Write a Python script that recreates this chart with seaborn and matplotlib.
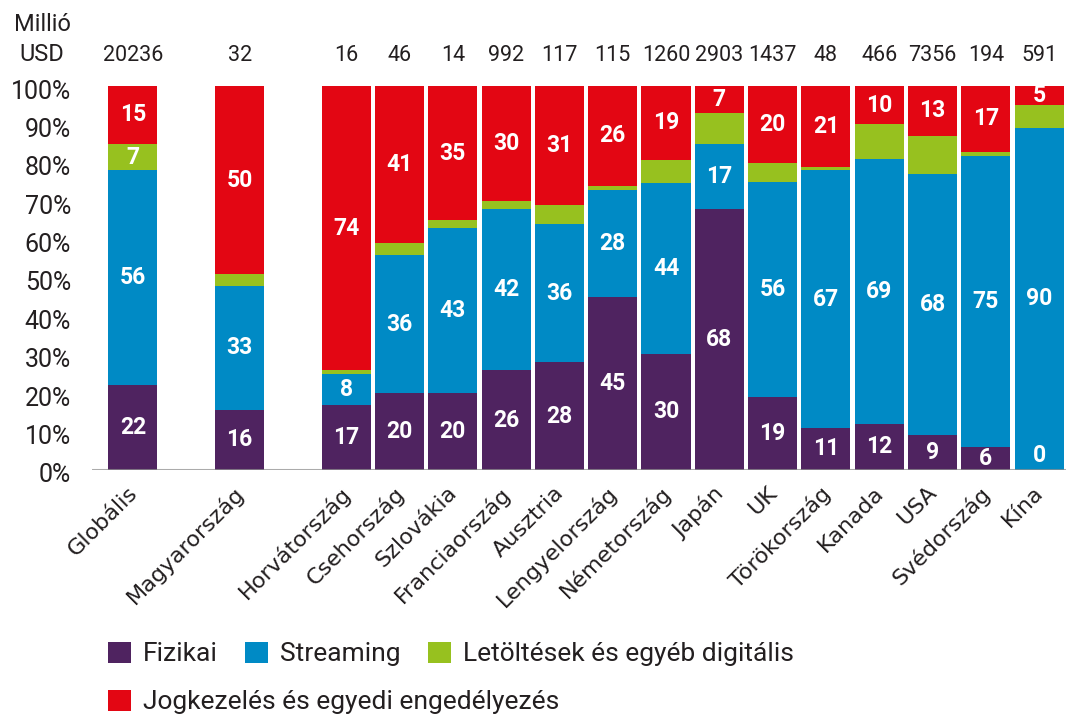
import numpy as np
import pandas as pd
import matplotlib
matplotlib.use("Agg")
import matplotlib.pyplot as plt
import seaborn as sns
from matplotlib import transforms
from matplotlib.patches import Patch

# ---------------- data ----------------
countries = ["Globális", "Magyarország", "Horvátország", "Csehország", "Szlovákia",
             "Franciaország", "Ausztria", "Lengyelország", "Németország", "Japán",
             "UK", "Törökország", "Kanada", "USA", "Svédország", "Kína"]
market_musd = [20236, 32, 16, 46, 14, 992, 117, 115, 1260, 2903, 1437, 48, 466, 7356, 194, 591]
fizikai = [22, 16, 17, 20, 20, 26, 28, 45, 30, 68, 19, 11, 12, 9, 6, 0]
streaming = [56, 33, 8, 36, 43, 42, 36, 28, 44, 17, 56, 67, 69, 68, 75, 90]
letoltesek = [7, 3, 1, 3, 2, 2, 5, 1, 6, 8, 5, 1, 9, 10, 1, 6]
jogkezeles = [15, 50, 74, 41, 35, 30, 31, 26, 19, 7, 20, 21, 10, 13, 17, 5]
series_names = ["Fizikai", "Streaming", "Letöltések és egyéb digitális",
                "Jogkezelés és egyedi engedélyezés"]
gap_after = ["Globális", "Magyarország"]
green_labelled = ["Globális"]

# ---------------- style ----------------
colors = ["#4F2360", "#008AC5", "#97C11F", "#E30613"]
sns.set_theme(style="white")
plt.rcParams["font.family"] = ["Roboto", "DejaVu Sans"]
txt_col = "#231F20"

# ---------------- prepare ----------------
raw = np.array([fizikai, streaming, letoltesek, jogkezeles], dtype=float)
share = raw / raw.sum(axis=0) * 100
cum = np.cumsum(share, axis=0)
df = pd.DataFrame({"country": countries})
for i in range(4):
    df[f"c{i}"] = cum[i]

order = []
blank = 0
for c in countries:
    order.append(c)
    if c in gap_after:
        blank += 1
        order.append(" " * blank)
pos = {c: order.index(c) for c in countries}

fig = plt.figure(figsize=(10.69, 7.15), dpi=100)
ax = fig.add_axes([0.086, 0.3427, 0.911, 0.537])

for i in [3, 2, 1, 0]:
    sns.barplot(data=df, x="country", y=f"c{i}", order=order, color=colors[i],
                width=0.92, saturation=1, errorbar=None, linewidth=0,
                edgecolor="none", ax=ax)

ax.set_xlim(-0.77, 17.5)
ax.set_ylim(0, 100)
ax.axhline(0, color="#8f8f8f", lw=2.2, alpha=0.75, zorder=5)
for s in ax.spines.values():
    s.set_visible(False)
ax.set_xlabel("")
ax.set_ylabel("")

ax.set_yticks(range(0, 101, 10))
ax.set_yticklabels([f"{v}%" for v in range(0, 101, 10)], fontsize=18, color=txt_col)
ax.tick_params(axis="y", length=0, pad=15)
offy = transforms.ScaledTranslation(0, -3 / 100, fig.dpi_scale_trans)
for lab in ax.get_yticklabels():
    lab.set_transform(lab.get_transform() + offy)

ax.set_xticks(range(len(order)))
ax.set_xticklabels([o if o.strip() else "" for o in order], rotation=45, ha="right",
                   rotation_mode="anchor", fontsize=16, color=txt_col, va="top")
ax.tick_params(axis="x", length=0, pad=9)
off = transforms.ScaledTranslation(-6 / 100, 0, fig.dpi_scale_trans)
for lab in ax.get_xticklabels():
    lab.set_fontfamily(["DejaVu Sans"])
    lab.set_transform(lab.get_transform() + off)

# segment labels
for j, c in enumerate(countries):
    x = pos[c]
    bottoms = [0] + list(cum[:-1, j])
    for i in range(4):
        if i == 2 and c not in green_labelled:
            continue
        h = share[i, j]
        yc = bottoms[i] + h / 2
        if h < 4:
            yc = bottoms[i] + 3.8
        ax.text(x, yc, f"{int(raw[i, j])}", ha="center", va="center", color="white",
                fontsize=16.5, fontweight="bold", zorder=6)

# top numbers
tr = transforms.blended_transform_factory(ax.transData, ax.transAxes)
for c, m in zip(countries, market_musd):
    ax.text(pos[c], (470 - 61) / 384, f"{m}", transform=tr, ha="center",
            va="baseline", fontsize=15.5, color=txt_col)
fig.text(42 / 1069, 1 - 31 / 715, "Millió", ha="center", va="baseline", fontsize=17,
         color=txt_col)
fig.text(42 / 1069, 1 - 61 / 715, "USD", ha="center", va="baseline", fontsize=17,
         color=txt_col)

# legend
handles = [Patch(facecolor=colors[i], edgecolor="none", label=series_names[i]) for i in range(4)]
leg_kw = dict(frameon=False, fontsize=19, handlelength=0.865, handleheight=0.865,
              handletextpad=0.45, borderpad=0, borderaxespad=0, labelcolor=txt_col)
leg1 = fig.legend(handles=handles[:3], loc="center left", ncol=3, columnspacing=1.05,
                  bbox_to_anchor=(108 / 1069, 1 - 654 / 715), **leg_kw)
leg2 = fig.legend(handles=handles[3:], loc="center left", ncol=1,
                  bbox_to_anchor=(108 / 1069, 1 - 702 / 715), **leg_kw)

fig.savefig("out.png", dpi=100)
